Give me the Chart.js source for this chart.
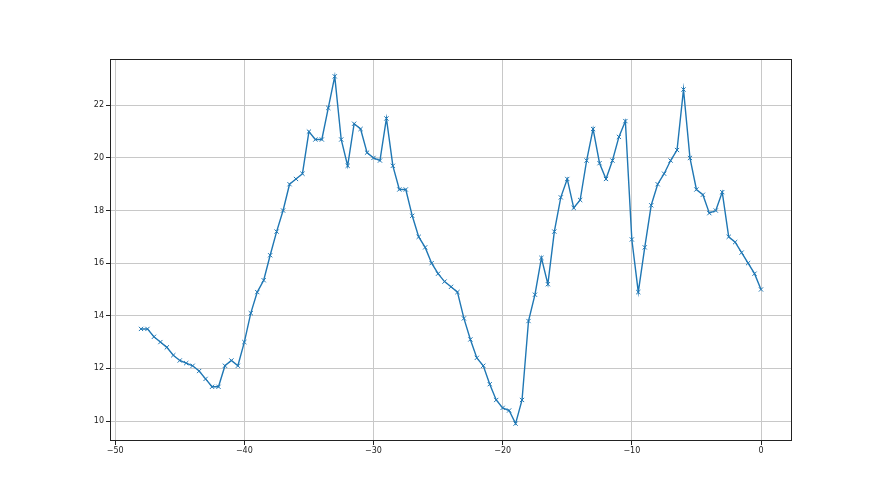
<!DOCTYPE html>
<html>
<head>
<meta charset="utf-8">
<script src="https://cdn.jsdelivr.net/npm/chart.js@4.4.1/dist/chart.umd.min.js"></script>
<style>
    html, body { margin: 0; padding: 0; background: #ffffff; }
    #wrap { position: relative; width: 880px; height: 495px; }
</style>
</head>
<body>
<div id="wrap"><canvas id="lineChart" width="880" height="495"></canvas></div>
<script>
// x positions: every half step from -48 to 0
const xValues = [
    -48, -47.5, -47, -46.5, -46, -45.5, -45, -44.5, -44, -43.5,
    -43, -42.5, -42, -41.5, -41, -40.5, -40, -39.5, -39, -38.5,
    -38, -37.5, -37, -36.5, -36, -35.5, -35, -34.5, -34, -33.5,
    -33, -32.5, -32, -31.5, -31, -30.5, -30, -29.5, -29, -28.5,
    -28, -27.5, -27, -26.5, -26, -25.5, -25, -24.5, -24, -23.5,
    -23, -22.5, -22, -21.5, -21, -20.5, -20, -19.5, -19, -18.5,
    -18, -17.5, -17, -16.5, -16, -15.5, -15, -14.5, -14, -13.5,
    -13, -12.5, -12, -11.5, -11, -10.5, -10, -9.5, -9, -8.5,
    -8, -7.5, -7, -6.5, -6, -5.5, -5, -4.5, -4, -3.5,
    -3, -2.5, -2, -1.5, -1, -0.5, 0
];

const yValues = [
    13.5, 13.5, 13.2, 13.0, 12.8, 12.5, 12.3, 12.2, 12.1, 11.9,
    11.6, 11.3, 11.3, 12.1, 12.3, 12.1, 13.0, 14.1, 14.9, 15.35,
    16.3, 17.2, 18.0, 19.0, 19.2, 19.4, 21.0, 20.7, 20.7, 21.9,
    23.1, 20.7, 19.7, 21.3, 21.1, 20.2, 20.0, 19.9, 21.5, 19.7,
    18.8, 18.8, 17.8, 17.0, 16.6, 16.0, 15.6, 15.3, 15.1, 14.9,
    13.9, 13.1, 12.4, 12.1, 11.4, 10.8, 10.5, 10.4, 9.9, 10.8,
    13.8, 14.8, 16.2, 15.2, 17.2, 18.5, 19.2, 18.1, 18.4, 19.9,
    21.1, 19.8, 19.2, 19.9, 20.8, 21.4, 16.9, 14.9, 16.6, 18.2,
    19.0, 19.4, 19.9, 20.3, 22.6, 20.0, 18.8, 18.6, 17.9, 18.0,
    18.7, 17.0, 16.8, 16.4, 16.0, 15.6, 15.0
];

const xTicks = [-50, -40, -30, -20, -10, 0];
const yTicks = [10, 12, 14, 16, 18, 20, 22];

document.addEventListener('DOMContentLoaded', function () {
    initLineChart();
});

function initLineChart() {
    const ctx = document.getElementById('lineChart').getContext('2d');

    // matplotlib-like 5% margins around the data
    const xSpan = Math.max(...xValues) - Math.min(...xValues);
    const ySpan = Math.max(...yValues) - Math.min(...yValues);

    const frame = {
        id: 'frame',
        afterDraw(chart) {
            const a = chart.chartArea;
            const c = chart.ctx;
            c.save();
            c.strokeStyle = '#222222';
            c.lineWidth = 1;
            c.strokeRect(Math.round(a.left) + 0.5, Math.round(a.top) + 0.5,
                Math.round(a.right - a.left) - 1, Math.round(a.bottom - a.top) - 1);
            c.restore();
        }
    };

    const tickFont = { family: 'DejaVu Sans', size: 8 };

    new Chart(ctx, {
        type: 'line',
        data: {
            datasets: [{
                data: xValues.map((x, i) => ({ x: x, y: yValues[i] })),
                borderColor: '#1f77b4',
                borderWidth: 1.4,
                pointStyle: 'crossRot',
                pointRadius: 3,
                pointBorderColor: '#1f77b4',
                pointBorderWidth: 1,
                fill: false,
                tension: 0
            }]
        },
        options: {
            responsive: false,
            animation: false,
            layout: { padding: { top: 59, right: 88, left: 0, bottom: 0 } },
            plugins: {
                legend: { display: false },
                tooltip: { enabled: false }
            },
            scales: {
                x: {
                    type: 'linear',
                    min: Math.min(...xValues) - xSpan * 0.05,
                    max: Math.max(...xValues) + xSpan * 0.05,
                    afterBuildTicks: (scale) => { scale.ticks = xTicks.map(v => ({ value: v })); },
                    afterFit: (scale) => { scale.height = 54; },
                    grid: {
                        color: '#c8c8c8',
                        lineWidth: 1,
                        drawTicks: true,
                        tickLength: 4,
                        tickColor: '#222222'
                    },
                    border: { display: false },
                    ticks: {
                        color: '#222222',
                        font: tickFont,
                        padding: 1,
                        maxRotation: 0,
                        callback: (v) => String(v).replace('-', '\u2212')
                    }
                },
                y: {
                    type: 'linear',
                    min: Math.min(...yValues) - ySpan * 0.05,
                    max: Math.max(...yValues) + ySpan * 0.05,
                    afterBuildTicks: (scale) => { scale.ticks = yTicks.map(v => ({ value: v })); },
                    afterFit: (scale) => { scale.width = 110; },
                    grid: {
                        color: '#c8c8c8',
                        lineWidth: 1,
                        drawTicks: true,
                        tickLength: 4,
                        tickColor: '#222222'
                    },
                    border: { display: false },
                    ticks: {
                        color: '#222222',
                        font: tickFont,
                        padding: 2
                    }
                }
            }
        },
        plugins: [frame]
    });
}
</script>
</body>
</html>
